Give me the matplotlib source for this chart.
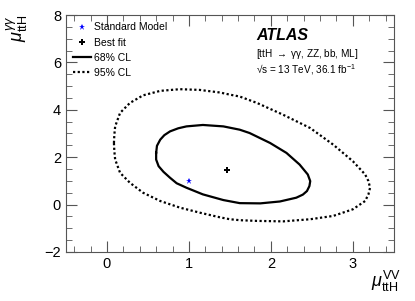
import matplotlib
matplotlib.use("Agg")
import matplotlib.pyplot as plt
from matplotlib.ticker import MultipleLocator
from matplotlib.lines import Line2D

plt.rcParams["font.family"] = ["Liberation Sans", "DejaVu Sans"]
plt.rcParams["mathtext.fontset"] = "custom"
plt.rcParams["mathtext.rm"] = "Liberation Sans"
plt.rcParams["mathtext.it"] = "Liberation Sans:italic"

# contour points (mu_VV, mu_yy)
cl68_x = [0.60, 0.61, 0.65, 0.70, 0.77, 0.87, 0.97, 1.17, 1.42, 1.62, 1.74, 1.99, 2.19,
          2.35, 2.45, 2.48, 2.47, 2.44, 2.39, 2.31, 2.11, 1.87, 1.62, 1.42, 1.17, 0.97,
          0.85, 0.77, 0.69, 0.63, 0.60]
cl68_y = [2.18, 2.48, 2.74, 2.93, 3.09, 3.22, 3.30, 3.36, 3.30, 3.16, 3.02, 2.60, 2.18,
          1.69, 1.27, 0.99, 0.78, 0.57, 0.42, 0.29, 0.13, 0.05, 0.06, 0.19, 0.43, 0.71,
          0.90, 1.13, 1.38, 1.62, 1.90]

cl95_x = [0.085, 0.09, 0.10, 0.16, 0.28, 0.44, 0.65, 0.89, 1.13, 1.38, 1.50, 1.62, 1.83,
          2.15, 2.48, 2.76, 3.00, 3.15, 3.19, 3.21, 3.19, 3.15, 3.00, 2.76, 2.48, 2.15,
          1.83, 1.62, 1.50, 1.38, 1.13, 0.89, 0.65, 0.44, 0.28, 0.16, 0.10, 0.09, 0.085]
cl95_y = [2.60, 2.95, 3.30, 3.87, 4.29, 4.61, 4.80, 4.87, 4.84, 4.73, 4.64, 4.56, 4.29,
          3.79, 3.23, 2.53, 1.83, 1.27, 0.99, 0.71, 0.43, 0.15, -0.20, -0.48, -0.62, -0.71,
          -0.69, -0.66, -0.62, -0.54, -0.34, -0.13, 0.15, 0.50, 0.92, 1.34, 1.90, 2.25, 2.60]

best_fit = (1.47, 1.45)
sm_point = (1.0, 1.0)

fig = plt.figure(figsize=(4.15, 3.01), dpi=100)
ax = fig.add_axes([0.159, 0.163, 0.790, 0.787])

ax.plot(cl95_x, cl95_y, color="black", lw=1.6, ls=(0, (1, 1.1)))
ax.plot(cl68_x + [cl68_x[0]], cl68_y + [cl68_y[0]], color="black", lw=1.6)
ax.plot(*best_fit, marker="P", color="black", ms=4.5, mew=0, ls="none")
ax.plot(*sm_point, marker="*", color="blue", ms=4.5, mew=0, ls="none")

ax.set_xlim(-0.5, 3.5)
ax.set_ylim(-2, 8)
ax.xaxis.set_major_locator(MultipleLocator(1))
ax.xaxis.set_minor_locator(MultipleLocator(0.2))
ax.yaxis.set_major_locator(MultipleLocator(2))
ax.yaxis.set_minor_locator(MultipleLocator(0.5))
for s in ax.spines.values():
    s.set_color("#555555")
ax.tick_params(which="both", direction="in", top=True, right=True, colors="#555555",
               labelcolor="black", labelsize=10.5)
ax.tick_params(which="major", length=8)
ax.tick_params(which="minor", length=4)

ax.text(1.02, -0.07, r"$\mu^{\mathrm{VV}}_{\mathrm{ttH}}$", transform=ax.transAxes,
        ha="right", va="top", fontsize=13)
ax.text(-0.185, 1.0, r"$\mu^{\gamma\gamma}_{\mathrm{ttH}}$", transform=ax.transAxes,
        ha="left", va="top", rotation=90, fontsize=13)

handles = [Line2D([], [], marker="*", color="blue", ms=5, mew=0, ls="none"),
           Line2D([], [], marker="P", color="black", ms=5, mew=0, ls="none"),
           Line2D([], [], color="black", lw=1.6),
           Line2D([], [], color="black", lw=1.6, ls=(0, (1, 1.1)))]
labels = ["Standard Model", "Best fit", "68% CL", "95% CL"]
ax.legend(handles, labels, loc="upper left", frameon=False, fontsize=7.5,
          handlelength=1.7, handletextpad=0.3, labelspacing=0.5,
          borderaxespad=0.3, bbox_to_anchor=(0.0, 1.0))

ax.text(0.58, 0.895, "ATLAS", transform=ax.transAxes, fontsize=11.5,
        fontweight="bold", fontstyle="italic")
ax.text(0.58, 0.825, "[ttH " + r"$\rightarrow$" + " γγ, ZZ, bb, ML]",
        transform=ax.transAxes, fontsize=7.2)
ax.text(0.58, 0.755, r"√s = 13 TeV, 36.1 fb$^{-1}$", transform=ax.transAxes,
        fontsize=7.2)

fig.savefig("out.png", dpi=100)
